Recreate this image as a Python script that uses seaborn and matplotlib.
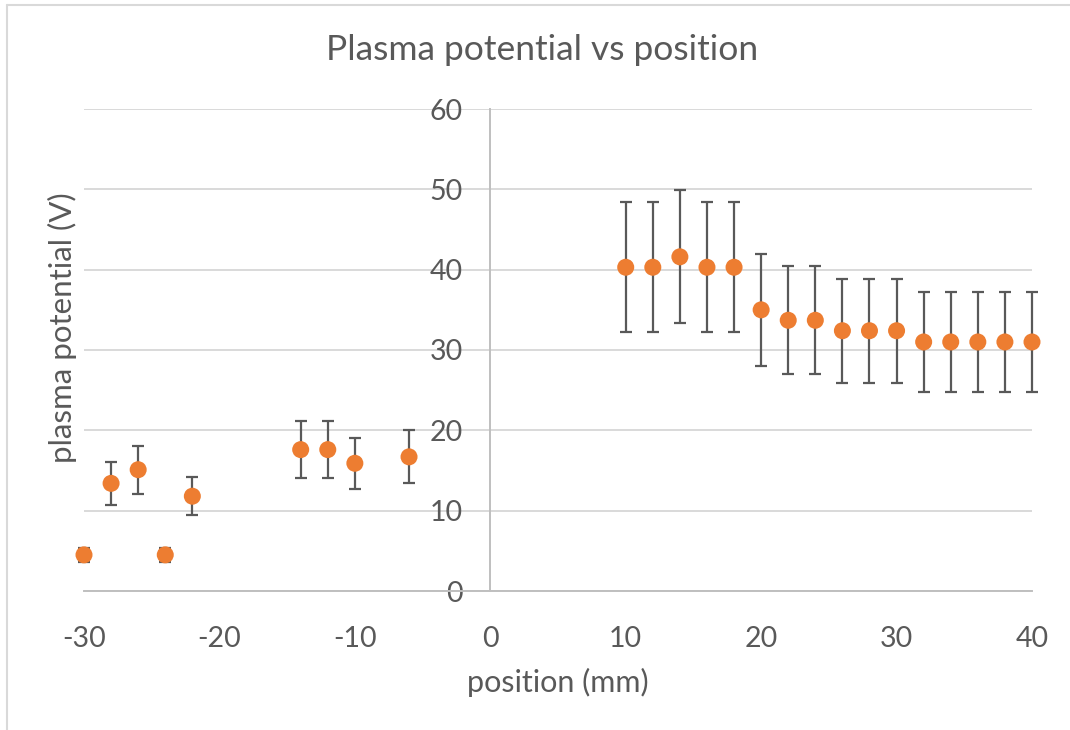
import matplotlib
matplotlib.use("Agg")
import matplotlib.pyplot as plt
from matplotlib.lines import Line2D
import pandas as pd
import seaborn as sns

# Probe scan: plasma potential against radial position
position = [-30, -28, -26, -24, -22, -14, -12, -10, -6,
            10, 12, 14, 16, 18, 20, 22, 24, 26, 28, 30, 32, 34, 36, 38, 40]
potential = [4.5, 13.4, 15.1, 4.5, 11.8, 17.6, 17.6, 15.9, 16.7,
             40.3, 40.3, 41.6, 40.3, 40.3, 35.0, 33.7, 33.7, 32.4, 32.4, 32.4,
             31.0, 31.0, 31.0, 31.0, 31.0]
uncertainty = [0.9, 2.7, 3.0, 0.9, 2.4, 3.5, 3.5, 3.2, 3.3,
               8.1, 8.1, 8.3, 8.1, 8.1, 7.0, 6.7, 6.7, 6.5, 6.5, 6.5,
               6.2, 6.2, 6.2, 6.2, 6.2]
x_ticks = [-30, -20, -10, 0, 10, 20, 30, 40]
y_ticks = [0, 10, 20, 30, 40, 50, 60]

df = pd.DataFrame({"position": position, "potential": potential, "err": uncertainty})

sns.set_theme(style="white")
plt.rcParams["font.family"] = ["Lato", "DejaVu Sans"]
plt.rcParams["axes.unicode_minus"] = False

TEXT = "#595959"
GRID = "#D9D9D9"
AXIS = "#BFBFBF"
ORANGE = "#ED7D31"

W, H = 1070, 730
fig = plt.figure(figsize=(W / 100, H / 100), dpi=100)
ax = fig.add_axes([84 / W, 1 - 591 / H, (1032 - 84) / W, (591 - 109) / H])

ax.errorbar(df["position"], df["potential"], yerr=df["err"], fmt="none",
            ecolor="#595959", elinewidth=1.6, capsize=4.6, capthick=1.6,
            zorder=2, clip_on=False)
sns.scatterplot(data=df, x="position", y="potential", ax=ax, color=ORANGE,
                s=150, edgecolor="none", linewidth=0, zorder=3, clip_on=False,
                legend=False)

ax.set_xlim(-30, 40)
ax.set_ylim(0, 60)
ax.set_xticks(x_ticks)
ax.set_yticks(y_ticks)
ax.yaxis.grid(True, color=GRID, linewidth=1.4, zorder=0)
ax.xaxis.grid(False)
ax.set_axisbelow(True)

for side in ["top", "right"]:
    ax.spines[side].set_visible(False)
ax.spines["left"].set_position(("data", 0))
ax.spines["left"].set_color(AXIS)
ax.spines["left"].set_linewidth(1.4)
ax.spines["bottom"].set_color(AXIS)
ax.spines["bottom"].set_linewidth(1.4)

ax.tick_params(axis="both", length=0, labelsize=20.5, labelcolor=TEXT)
ax.tick_params(axis="x", pad=25)
ax.tick_params(axis="y", pad=20)
ax.set_xlabel("")
ax.set_ylabel("")

fig.text(558 / W, 1 - 682 / H, "position (mm)", ha="center", va="center",
         fontsize=22, color=TEXT)
fig.text(62 / W, 1 - 328 / H, "plasma potential (V)", ha="center", va="center",
         rotation=90, fontsize=22.5, color=TEXT)
fig.text(542 / W, 1 - 50 / H, "Plasma potential vs position", ha="center",
         va="center", fontsize=25.5, color=TEXT)

# chart-area frame
fig.add_artist(Line2D([7 / W, 7 / W], [0, 1 - 5 / H], transform=fig.transFigure,
                      color=GRID, linewidth=1.5))
fig.add_artist(Line2D([7 / W, 1], [1 - 5 / H, 1 - 5 / H], transform=fig.transFigure,
                      color=GRID, linewidth=1.5))

fig.savefig("out.png", dpi=100)
